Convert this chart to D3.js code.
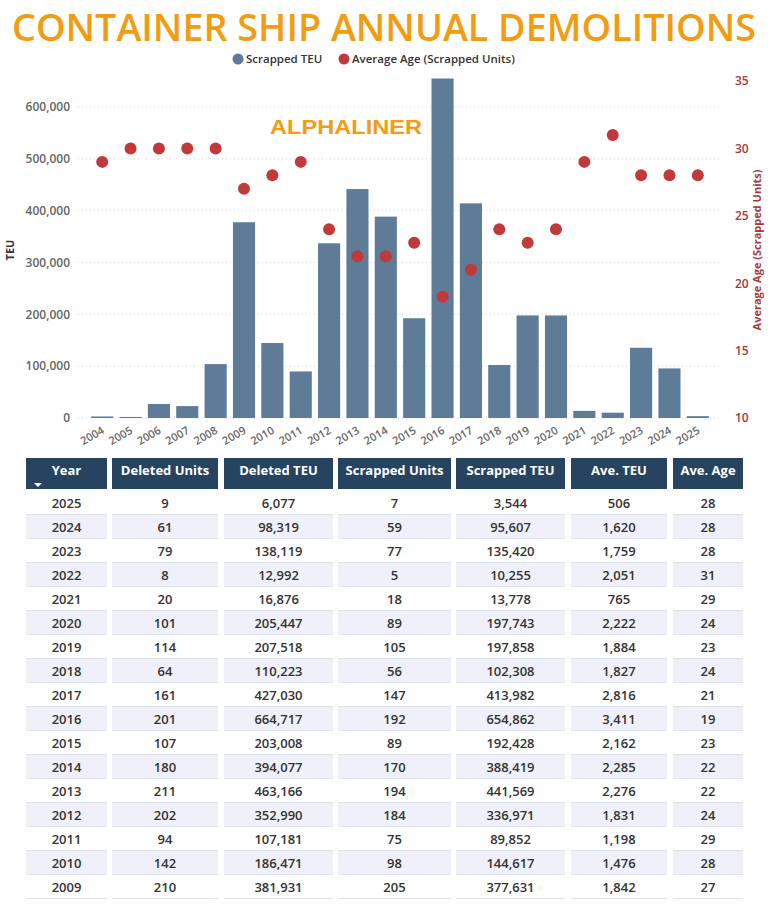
<!DOCTYPE html>
<html>
<head>
<meta charset="utf-8">
<script src="https://cdn.jsdelivr.net/npm/d3@7"></script>
<style>
  body { margin: 0; background: #fff; }
  svg { display: block; font-family: "Open Sans", "Noto Sans", sans-serif; }
</style>
</head>
<body>
<div id="chart"></div>
<script>
// chart data (2004-2025)
var years = ["2004","2005","2006","2007","2008","2009","2010","2011","2012","2013","2014",
             "2015","2016","2017","2018","2019","2020","2021","2022","2023","2024","2025"];
var scrappedTEU = [3000, 2000, 27000, 23000, 104000, 377631, 144617, 89852, 336971, 441569, 388419,
                   192428, 654862, 413982, 102308, 197858, 197743, 13778, 10255, 135420, 95607, 3544];
var avgAge = [29, 30, 30, 30, 30, 27, 28, 29, 24, 22, 22, 23, 19, 21, 24, 23, 24, 29, 31, 28, 28, 28];

var leftTicks = [0, 100000, 200000, 300000, 400000, 500000, 600000];
var rightTicks = [10, 15, 20, 25, 30, 35];

// table data
var tableHeaders = ["Year", "Deleted Units", "Deleted TEU", "Scrapped Units", "Scrapped TEU", "Ave. TEU", "Ave. Age"];
var tblYear = [2025, 2024, 2023, 2022, 2021, 2020, 2019, 2018, 2017, 2016, 2015, 2014, 2013, 2012, 2011, 2010, 2009];
var tblDelUnits = [9, 61, 79, 8, 20, 101, 114, 64, 161, 201, 107, 180, 211, 202, 94, 142, 210];
var tblDelTEU = [6077, 98319, 138119, 12992, 16876, 205447, 207518, 110223, 427030, 664717, 203008, 394077, 463166, 352990, 107181, 186471, 381931];
var tblScrUnits = [7, 59, 77, 5, 18, 89, 105, 56, 147, 192, 89, 170, 194, 184, 75, 98, 205];
var tblScrTEU = [3544, 95607, 135420, 10255, 13778, 197743, 197858, 102308, 413982, 654862, 192428, 388419, 441569, 336971, 89852, 144617, 377631];
var tblAveTEU = [506, 1620, 1759, 2051, 765, 2222, 1884, 1827, 2816, 3411, 2162, 2285, 2276, 1831, 1198, 1476, 1842];
var tblAveAge = [28, 28, 28, 31, 29, 24, 23, 24, 21, 19, 23, 22, 22, 24, 29, 28, 27];

var W = 768, H = 904;
var barColor = "#5e7c98", dotColor = "#c0393b", ageText = "#a8383a", navy = "#264360";
var orange = "#f39c12";

var svg = d3.select("#chart").append("svg")
  .attr("width", W).attr("height", H);

// title
svg.append("text")
  .attr("x", 384).attr("y", 41)
  .attr("text-anchor", "middle")
  .attr("textLength", 744).attr("lengthAdjust", "spacingAndGlyphs")
  .style("font-size", "38px").style("font-weight", 600).style("fill", orange)
  .text("CONTAINER SHIP ANNUAL DEMOLITIONS");

// legend
var legend = svg.append("g").attr("transform", "translate(0,59)");
legend.append("circle").attr("cx", 238).attr("cy", 0).attr("r", 5.5).attr("fill", barColor);
legend.append("text").attr("x", 246).attr("y", 4).style("font-size", "11.5px").style("font-weight", 600).style("fill", "#333")
  .text("Scrapped TEU");
legend.append("circle").attr("cx", 344).attr("cy", 0).attr("r", 5.5).attr("fill", dotColor);
legend.append("text").attr("x", 352).attr("y", 4).style("font-size", "11.5px").style("font-weight", 600).style("fill", "#333")
  .text("Average Age (Scrapped Units)");

// scales
var x = d3.scaleBand().domain(years).range([88, 712]).paddingInner(0.22).paddingOuter(0.11);
var y = d3.scaleLinear().domain([0, 650000]).range([418, 81]);
var y2 = d3.scaleLinear().domain([10, 35]).range([418, 81]);

// gridlines
svg.append("g").selectAll("line").data(leftTicks).enter().append("line")
  .attr("x1", 78).attr("x2", 722)
  .attr("y1", function(d){ return y(d); }).attr("y2", function(d){ return y(d); })
  .attr("stroke", "#d6d6d6").attr("stroke-dasharray", "1,3");

// left axis
var yAxis = svg.append("g").attr("transform", "translate(70,0)")
  .call(d3.axisLeft(y).tickValues(leftTicks).tickSize(0).tickPadding(0).tickFormat(d3.format(",")));
yAxis.select(".domain").remove();
yAxis.selectAll("text").style("font-size", "12px").style("font-weight", 600).style("fill", "#666")
  .style("font-family", "'Open Sans', sans-serif");

svg.append("text")
  .attr("transform", "translate(14,250) rotate(-90)")
  .attr("text-anchor", "middle")
  .style("font-size", "11px").style("font-weight", 700).style("fill", "#333")
  .text("TEU");

// right axis
var yAxis2 = svg.append("g").attr("transform", "translate(735,0)")
  .call(d3.axisRight(y2).tickValues(rightTicks).tickSize(0).tickPadding(0));
yAxis2.select(".domain").remove();
yAxis2.selectAll("text").style("font-size", "12px").style("font-weight", 600).style("fill", ageText)
  .style("font-family", "'Open Sans', sans-serif");

svg.append("text")
  .attr("transform", "translate(761,250) rotate(-90)")
  .attr("text-anchor", "middle")
  .style("font-size", "11px").style("font-weight", 700).style("fill", ageText)
  .text("Average Age (Scrapped Units)");

// bars
svg.append("g").selectAll("rect").data(years).enter().append("rect")
  .attr("x", function(d){ return x(d); })
  .attr("width", x.bandwidth())
  .attr("y", function(d, i){ return y(scrappedTEU[i]); })
  .attr("height", function(d, i){ return y(0) - y(scrappedTEU[i]); })
  .attr("fill", barColor);

// dots
svg.append("g").selectAll("circle").data(years).enter().append("circle")
  .attr("cx", function(d){ return x(d) + x.bandwidth() / 2; })
  .attr("cy", function(d, i){ return y2(avgAge[i]); })
  .attr("r", 6)
  .attr("fill", dotColor);

// x axis labels
var xAxis = svg.append("g").attr("transform", "translate(0,420)")
  .call(d3.axisBottom(x).tickSize(0).tickPadding(0));
xAxis.select(".domain").remove();
xAxis.selectAll("text")
  .attr("text-anchor", "end")
  .attr("transform", "translate(-1,6) rotate(-30)")
  .attr("dy", "0.7em")
  .style("font-size", "11px").style("font-weight", 600).style("fill", "#666")
  .style("font-family", "'Open Sans', sans-serif");

// watermark
svg.append("text")
  .attr("x", 346).attr("y", 134)
  .attr("text-anchor", "middle")
  .attr("textLength", 152).attr("lengthAdjust", "spacingAndGlyphs")
  .style("font-family", "'Liberation Sans', Arial, sans-serif")
  .style("font-size", "21px").style("font-weight", 900).style("fill", orange)
  .text("ALPHALINER");

// table
var colX = [26, 112, 224, 338, 456, 571, 673];
var colW = [81, 106, 109, 113, 109, 96, 70];
var headTop = 458, headH = 31, rowTop = 491, rowH = 24;
var columns = [tblYear, tblDelUnits, tblDelTEU, tblScrUnits, tblScrTEU, tblAveTEU, tblAveAge];
var fmt = d3.format(",");

var head = svg.append("g");
head.selectAll("rect").data(tableHeaders).enter().append("rect")
  .attr("x", function(d, i){ return colX[i]; })
  .attr("y", headTop).attr("width", function(d, i){ return colW[i]; }).attr("height", headH)
  .attr("fill", navy);
head.selectAll("text").data(tableHeaders).enter().append("text")
  .attr("x", function(d, i){ return colX[i] + colW[i] / 2; })
  .attr("y", headTop + 17)
  .attr("text-anchor", "middle")
  .style("font-size", "13px").style("font-weight", 700).style("fill", "#fff")
  .text(function(d){ return d; });
head.append("path")
  .attr("d", "M34,483 L42,483 L38,487 Z")
  .attr("fill", "#fff");

var body = svg.append("g");
tblYear.forEach(function(yr, r) {
  var top = rowTop + r * rowH;
  columns.forEach(function(col, c) {
    if (r % 2 === 1) {
      body.append("rect")
        .attr("x", colX[c]).attr("y", top).attr("width", colW[c]).attr("height", rowH)
        .attr("fill", "#eff0fa");
    }
    body.append("line")
      .attr("x1", colX[c]).attr("x2", colX[c] + colW[c])
      .attr("y1", top + rowH - 0.5).attr("y2", top + rowH - 0.5)
      .attr("stroke", "#dfe2ef").attr("stroke-width", 1);
    body.append("text")
      .attr("x", colX[c] + colW[c] / 2)
      .attr("y", top + rowH / 2 + 4.5)
      .attr("text-anchor", "middle")
      .style("font-size", "13px").style("font-weight", 600).style("fill", "#333")
      .text(c === 0 ? col[r] : fmt(col[r]));
  });
});
</script>
</body>
</html>
